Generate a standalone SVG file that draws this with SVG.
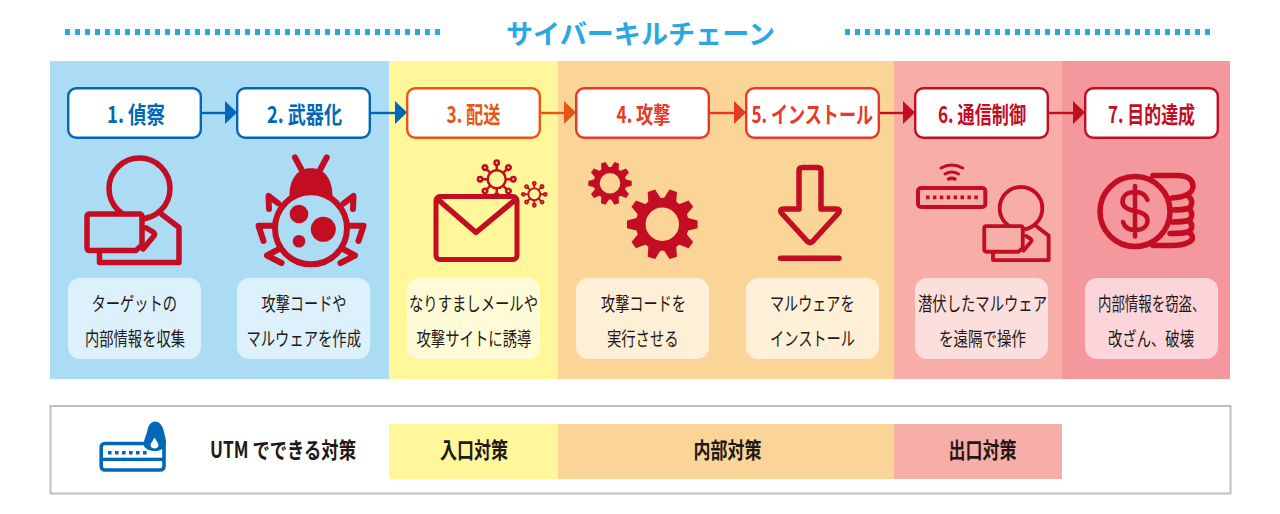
<svg xmlns="http://www.w3.org/2000/svg" xmlns:xlink="http://www.w3.org/1999/xlink" width="1280" height="514" viewBox="0 0 1280 514">
<style>
text{font-family:"Noto Sans CJK JP","Noto Sans",sans-serif;text-anchor:start}
.lb{font-size:23px;font-weight:700}
.d{font-size:19px;fill:#231815}
.k{font-size:22px;font-weight:700;fill:#231815}
.nb{fill:#fff;stroke-width:2.4}
.ic{fill:none;stroke:#C30D23;stroke-width:5.5;stroke-linejoin:round;stroke-linecap:round}
.lap{fill:var(--bg)}
.fi{fill:#C30D23}
.c-blue{stroke:#0068B7}.c-or{stroke:#EA5514}.c-rd{stroke:#E83828}.c-dk{stroke:#C30D23}
.t-blue{fill:#0068B7}.t-or{fill:#EA5514}.t-rd{fill:#E83828}.t-dk{fill:#C30D23}
.conn{stroke-width:2.4;fill:none}
</style>
<defs>
<g id="person">
<circle cx="139.5" cy="188.5" r="30.5"/>
<path d="M162,214.5 L179,227.5 V262.5 H99.5 V251"/>
<path class="lap" d="M90,214 H139 Q142,214 142,217 V245 L136,250.5 H90 Q87,250.5 87,247.5 V217 Q87,214 90,214Z"/>
<path d="M146.5,228 L153,232 Q155.5,234 153.5,236.5 L143,249"/>
</g>
<g id="two"><polygon points="24,-6.8 35.3,-3.9 35.3,3.9 24,6.8"/><polygon points="-24,-6.8 -35.3,-3.9 -35.3,3.9 -24,6.8"/></g>
<g id="gear">
<use xlink:href="#two"/><use xlink:href="#two" transform="rotate(36)"/><use xlink:href="#two" transform="rotate(72)"/><use xlink:href="#two" transform="rotate(108)"/><use xlink:href="#two" transform="rotate(144)"/>
<circle r="21.6" fill="none" stroke="#C30D23" stroke-width="9.8"/>
</g>
<g id="sp"><line x1="9" x2="14.5"/><circle cx="16.6" r="2.2" fill="none"/></g>
<g id="virus" fill="none" stroke="#C30D23">
<circle r="9"/>
<use xlink:href="#sp"/><use xlink:href="#sp" transform="rotate(45)"/><use xlink:href="#sp" transform="rotate(90)"/><use xlink:href="#sp" transform="rotate(135)"/><use xlink:href="#sp" transform="rotate(180)"/><use xlink:href="#sp" transform="rotate(225)"/><use xlink:href="#sp" transform="rotate(270)"/><use xlink:href="#sp" transform="rotate(315)"/>
</g>
</defs>
<rect width="1280" height="514" fill="#fff"/>
<g id="title">
<line x1="65" y1="32" x2="440" y2="32" stroke="#29A9E0" stroke-width="6" stroke-dasharray="5 5"/>
<line x1="845" y1="32" x2="1211" y2="32" stroke="#29A9E0" stroke-width="6" stroke-dasharray="5 5"/>
<text x="506" y="43.5" font-size="27" font-weight="700" fill="#29A9E0" textLength="269" lengthAdjust="spacingAndGlyphs">サイバーキルチェーン</text>
</g>
<g id="bands">
<rect x="50" y="61" width="339" height="318" fill="#ABDCF4"/>
<rect x="389" y="61" width="169" height="318" fill="#FFF799"/>
<rect x="558" y="61" width="336" height="318" fill="#FAD597"/>
<rect x="894" y="61" width="168" height="318" fill="#F7AEA8"/>
<rect x="1062" y="61" width="168" height="318" fill="#F5989D"/>
</g>
<g id="connectors">
<line class="conn c-blue" x1="201" y1="113" x2="227" y2="113"/><polygon class="t-blue" points="225,101 237,112.5 225,124"/>
<line class="conn c-blue" x1="370" y1="113" x2="397" y2="113"/><polygon class="t-blue" points="395,101 407,112.5 395,124"/>
<line class="conn c-or" x1="540" y1="113" x2="566" y2="113"/><polygon class="t-or" points="564,101 576,112.5 564,124"/>
<line class="conn c-rd" x1="709" y1="113" x2="736" y2="113"/><polygon class="t-rd" points="734,101 746,112.5 734,124"/>
<line class="conn c-dk" x1="879" y1="113" x2="905" y2="113"/><polygon class="t-dk" points="903,101 915,112.5 903,124"/>
<line class="conn c-dk" x1="1048" y1="113" x2="1075" y2="113"/><polygon class="t-dk" points="1073,101 1085,112.5 1073,124"/>
</g>
<g id="node1">
<rect class="nb c-blue" x="68.2" y="88.2" width="132.6" height="49.6" rx="8"/>
<text class="lb t-blue" x="107" y="122.5" textLength="58" lengthAdjust="spacingAndGlyphs">1. 偵察</text>
<use xlink:href="#person" class="ic" style="--bg:#ABDCF4"/>
<rect x="68" y="278" width="133" height="81" rx="12" fill="#DCF1FB"/>
<text class="d" x="91.5" y="310.5" textLength="85.5" lengthAdjust="spacingAndGlyphs">ターゲットの</text>
<text class="d" x="85" y="346" textLength="100" lengthAdjust="spacingAndGlyphs">内部情報を収集</text>
</g>
<g id="node2">
<rect class="nb c-blue" x="237.2" y="88.2" width="132.6" height="49.6" rx="8"/>
<text class="lb t-blue" x="267" y="122.5" textLength="75" lengthAdjust="spacingAndGlyphs">2. 武器化</text>
<g class="ic" style="stroke-width:6">
<circle cx="311" cy="228.3" r="36"/>
<path d="M295,157.5 L301.7,170 M326.7,157.5 L320,170"/>
<path d="M278.3,203.3 L268.5,196 L269,209 M343.7,203.3 L353.5,196 L353,209"/>
<path d="M271.7,225.7 H258.5 L263.5,241 M350.3,225.7 H363.5 L358.5,241"/>
<path d="M280,248.5 L267,255.5 L281.5,263 M342,248.5 L355,255.5 L340.5,263"/>
</g>
<path class="fi" d="M289.5,196 C289.5,176 300,168.3 311,168.3 C322,168.3 332.5,176 332.5,196 Q311,186 289.5,196Z"/>
<circle class="fi" cx="299" cy="214" r="9.3"/><circle class="fi" cx="323.3" cy="229.3" r="12.5"/><circle class="fi" cx="299" cy="241.3" r="6.3"/>
<rect x="237" y="278" width="133" height="81" rx="12" fill="#DCF1FB"/>
<text class="d" x="261.5" y="310.5" textLength="85" lengthAdjust="spacingAndGlyphs">攻撃コードや</text>
<text class="d" x="246.5" y="346" textLength="114.5" lengthAdjust="spacingAndGlyphs">マルウェアを作成</text>
</g>
<g id="node3">
<rect class="nb c-or" x="407.2" y="88.2" width="132.6" height="49.6" rx="8"/>
<text class="lb t-or" x="446.5" y="122.5" textLength="54" lengthAdjust="spacingAndGlyphs">3. 配送</text>
<use xlink:href="#virus" transform="translate(496.7,179.3)" stroke-width="2.5"/>
<use xlink:href="#virus" transform="translate(534.3,194.3) scale(.66)" stroke-width="2.9"/>
<rect x="436" y="196.5" width="81" height="63" rx="4" fill="#FFF799" stroke="#C30D23" stroke-width="5"/>
<path class="ic" stroke-width="5" d="M438.5,200 L476,232.5 L515,200"/>
<rect x="407" y="278" width="133" height="81" rx="12" fill="#FFFBD6"/>
<text class="d" x="409" y="310.5" textLength="129" lengthAdjust="spacingAndGlyphs">なりすましメールや</text>
<text class="d" x="416.5" y="346" textLength="115" lengthAdjust="spacingAndGlyphs">攻撃サイトに誘導</text>
</g>
<g id="node4">
<rect class="nb c-rd" x="576.2" y="88.2" width="132.6" height="49.6" rx="8"/>
<text class="lb t-rd" x="616.5" y="122.5" textLength="54" lengthAdjust="spacingAndGlyphs">4. 攻撃</text>
<use xlink:href="#gear" class="fi" transform="translate(610,183.3) scale(.615)"/>
<use xlink:href="#gear" class="fi" transform="translate(662.3,224.3)"/>
<rect x="576" y="278" width="133" height="81" rx="12" fill="#FEEFD7"/>
<text class="d" x="601" y="310.5" textLength="85" lengthAdjust="spacingAndGlyphs">攻撃コードを</text>
<text class="d" x="607" y="346" textLength="71.5" lengthAdjust="spacingAndGlyphs">実行させる</text>
</g>
<g id="node5">
<rect class="nb c-rd" x="746.2" y="88.2" width="132.6" height="49.6" rx="8"/>
<text class="lb t-rd" x="751.5" y="122.5" textLength="121.5" lengthAdjust="spacingAndGlyphs">5. インストール</text>
<path class="ic" d="M799,171 Q799,167.5 802.5,167.5 H817.5 Q821,167.5 821,171 V209 H836 Q841,209 838.5,213 L813,241 Q810,244 807,241 L781.5,213 Q779,209 784,209 H799Z"/>
<line class="ic" x1="780.5" y1="258.3" x2="839" y2="258.3"/>
<rect x="746" y="278" width="133" height="81" rx="12" fill="#FEEFD7"/>
<text class="d" x="770" y="310.5" textLength="84.5" lengthAdjust="spacingAndGlyphs">マルウェアを</text>
<text class="d" x="770" y="346" textLength="85" lengthAdjust="spacingAndGlyphs">インストール</text>
</g>
<g id="node6">
<rect class="nb c-dk" x="915.2" y="88.2" width="132.6" height="49.6" rx="8"/>
<text class="lb t-dk" x="938" y="122.5" textLength="88" lengthAdjust="spacingAndGlyphs">6. 通信制御</text>
<use xlink:href="#person" class="ic" transform="translate(923.35,76.35) scale(.7)" style="--bg:#F7AEA8"/>
<rect x="918" y="188" width="67.3" height="19" rx="3" fill="none" stroke="#C30D23" stroke-width="4"/>
<line x1="926" y1="197.4" x2="978" y2="197.4" stroke="#C30D23" stroke-width="3.6" stroke-dasharray="3.5 3.4"/>
<g fill="none" stroke="#C30D23" stroke-width="3" stroke-linecap="round">
<path d="M941,168 Q951.7,162 962.7,168"/><path d="M945,174 Q951.7,170 958.5,174"/><path d="M948.5,179 Q951.7,177.5 955,179" stroke-width="3.5"/>
</g>
<rect x="915" y="278" width="133" height="81" rx="12" fill="#FCDEDC"/>
<text class="d" x="918" y="310.5" textLength="129" lengthAdjust="spacingAndGlyphs">潜伏したマルウェア</text>
<text class="d" x="939" y="346" textLength="87" lengthAdjust="spacingAndGlyphs">を遠隔で操作</text>
</g>
<g id="node7">
<rect class="nb c-dk" x="1085.2" y="88.2" width="132.6" height="49.6" rx="8"/>
<text class="lb t-dk" x="1108" y="122.5" textLength="87" lengthAdjust="spacingAndGlyphs">7. 目的達成</text>
<g class="ic">
<circle cx="1135" cy="211.5" r="35"/>
<path d="M1153,175.5 H1178 C1189,175.5 1193,181 1193,186 C1193,193 1185,197.5 1172,198"/>
<path d="M1188,196 C1193,199 1193,206 1188,208.5 Q1183,210 1172,210"/>
<path d="M1188,208.5 C1193,211 1193,218 1188,220.5 Q1183,222 1172,222"/>
<path d="M1188,220.5 C1193,223 1193,230 1188,232 Q1183,233.5 1170,233.5"/>
<path d="M1188,232 C1194,235 1194,240 1188,242.5 Q1182,245.5 1172,245.5 H1153"/>
<path style="stroke-width:4.5" d="M1135,186 V236.5 M1147.5,200 C1145.5,194.5 1140.5,192 1135,192 C1127,192 1122.5,196 1122.5,201.5 C1122.5,207 1127,209.5 1135,211 C1143,212.5 1147.5,215 1147.5,220.5 C1147.5,226 1143,230 1135,230 C1129,230 1124.5,227 1123,222"/>
</g>
<rect x="1085" y="278" width="133" height="81" rx="12" fill="#FBD5D9"/>
<text class="d" x="1098" y="310.5" textLength="107.5" lengthAdjust="spacingAndGlyphs">内部情報を窃盗、</text>
<text class="d" x="1108" y="346" textLength="86" lengthAdjust="spacingAndGlyphs">改ざん、破壊</text>
</g>
<g id="legend">
<rect x="50.5" y="406" width="1180" height="87.5" fill="#fff" stroke="#BFBFBF" stroke-width="2"/>
<rect x="389" y="424" width="169" height="55" fill="#FFF799"/>
<rect x="558" y="424" width="336" height="55" fill="#FAD597"/>
<rect x="894" y="424" width="168" height="55" fill="#F7AEA8"/>
<text class="k" x="210" y="458" textLength="146" lengthAdjust="spacingAndGlyphs">UTM でできる対策</text>
<text class="k" x="440" y="458" textLength="68" lengthAdjust="spacingAndGlyphs">入口対策</text>
<text class="k" x="693.5" y="458" textLength="68" lengthAdjust="spacingAndGlyphs">内部対策</text>
<text class="k" x="948.5" y="458" textLength="68" lengthAdjust="spacingAndGlyphs">出口対策</text>
</g>
<g id="utm-icon">
<rect x="101.2" y="443.5" width="62.8" height="26.5" rx="3.5" fill="#fff" stroke="#0068B7" stroke-width="3.6"/>
<line x1="108" y1="452.7" x2="150" y2="452.7" stroke="#0068B7" stroke-width="3.6" stroke-dasharray="3.6 3.4"/>
<rect x="101" y="457.7" width="63" height="3.4" fill="#0068B7"/>
<path d="M155,421.5 C160.5,421.5 163,427 164,432 C165.5,438 167,443 165.5,446 C163.5,449.5 159,451 155,451 C150,451 145.5,449.5 143.8,445.5 C143,442 146,436 147.5,430 C148.5,425.5 151,421.5 155,421.5Z" fill="#0068B7"/>
<path d="M154.5,437.5 C156,441 158.5,443 158.5,445 C158.5,447 156.5,448.5 154.5,448.5 C152.5,448.5 150.5,447 150.5,445 C150.5,443 153,441 154.5,437.5Z" fill="#fff"/>
</g>
</svg>
